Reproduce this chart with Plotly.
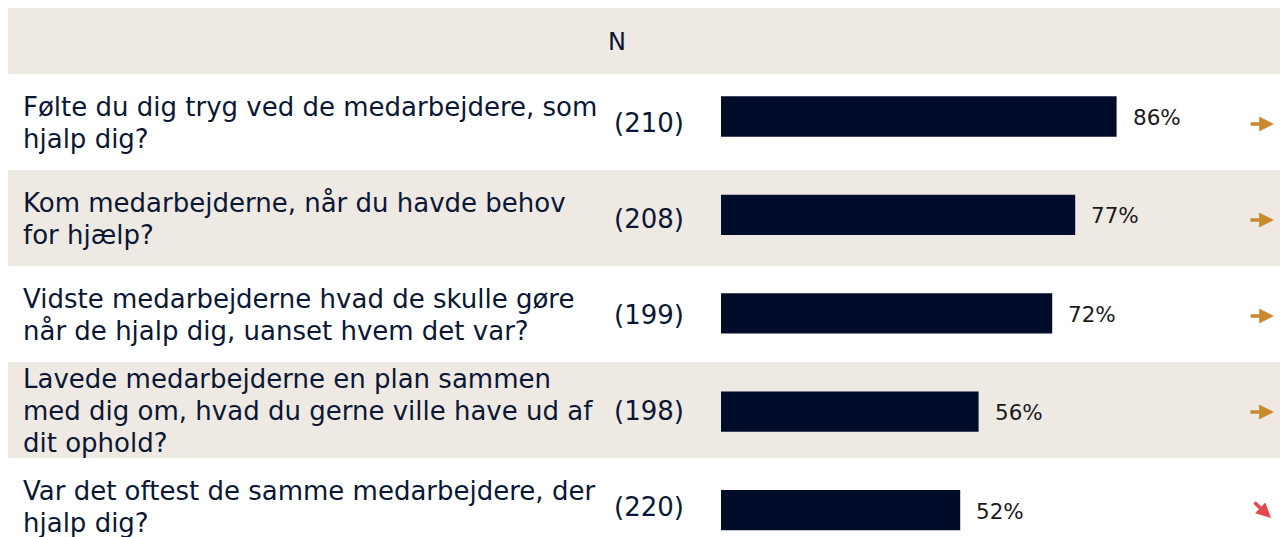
import plotly.graph_objects as go

questions = [
    ["Følte du dig tryg ved de medarbejdere, som", "hjalp dig?"],
    ["Kom medarbejderne, når du havde behov", "for hjælp?"],
    ["Vidste medarbejderne hvad de skulle gøre", "når de hjalp dig, uanset hvem det var?"],
    ["Lavede medarbejderne en plan sammen", "med dig om, hvad du gerne ville have ud af", "dit ophold?"],
    ["Var det oftest de samme medarbejdere, der", "hjalp dig?"],
]
n_values = [210, 208, 199, 198, 220]
pct_values = [86, 77, 72, 56, 52]
trends = ["flat", "flat", "flat", "flat", "down"]

W, H = 1288, 537
OFF = 8  # page body margin offset
BEIGE = "#EEE9E2"
NAVY = "#010C2B"
TEXT = "#0B1735"
ORANGE = "#C98A2E"
RED = "#E5484D"
FONT = "DejaVu Sans, Noto Sans, sans-serif"

def py(px):
    return 1 - (px - OFF) / H

def px_x(px):
    return (px - OFF) / W

idx = list(range(len(questions)))

fig = go.Figure()
fig.add_trace(go.Bar(
    x=pct_values, y=idx, orientation="h",
    marker=dict(color=NAVY, line=dict(width=0)),
    width=0.41, hoverinfo="skip",
))

shapes = []
shapes.append(dict(type="rect", xref="paper", yref="paper", x0=0, x1=1.0,
                   y0=py(74), y1=1.0, fillcolor=BEIGE, line_width=0, layer="below"))
row_top = 74
row_h = 96
for i in idx:
    if i % 2 == 1:
        shapes.append(dict(type="rect", xref="paper", yref="paper", x0=0, x1=1.0,
                           y0=py(row_top + (i + 1) * row_h), y1=py(row_top + i * row_h),
                           fillcolor=BEIGE, line_width=0, layer="below"))

annotations = []
annotations.append(dict(text="N", xref="paper", yref="paper", x=px_x(617), y=py(42),
                        xanchor="center", yanchor="middle", showarrow=False,
                        font=dict(size=24, color=TEXT, family=FONT)))
LINE = 32
for i in idx:
    cy = row_top + i * row_h + row_h / 2 + 1
    lines = questions[i]
    nl = len(lines)
    for j, ln in enumerate(lines):
        ly = cy + (j - (nl - 1) / 2) * LINE
        annotations.append(dict(text=ln, xref="paper", yref="paper",
                                x=px_x(21), y=py(ly), xanchor="left", yanchor="middle",
                                align="left", showarrow=False,
                                font=dict(size=26, color=TEXT, family=FONT)))
    annotations.append(dict(text=f"({n_values[i]})", xref="paper", yref="paper",
                            x=px_x(648.5), y=py(cy), xanchor="center", yanchor="middle",
                            showarrow=False, font=dict(size=26, color=TEXT, family=FONT)))
    annotations.append(dict(text=f"{pct_values[i]}%", xref="x", yref="y",
                            x=pct_values[i], y=i, xanchor="left", yanchor="middle",
                            xshift=14, yshift=-1, showarrow=False,
                            font=dict(size=21.5, color="#1a1a1a", family=FONT)))
    if trends[i] == "flat":
        annotations.append(dict(text="", xref="paper", yref="paper",
                                x=px_x(1274), y=py(cy + 1), ax=-25, ay=0,
                                showarrow=True, arrowhead=2, arrowsize=0.85, arrowwidth=3.5,
                                arrowcolor=ORANGE))
    else:
        annotations.append(dict(text="", xref="paper", yref="paper",
                                x=px_x(1271), y=py(cy + 11), ax=-18, ay=-17,
                                showarrow=True, arrowhead=2, arrowsize=0.85, arrowwidth=3.5,
                                arrowcolor=RED))

c0, k = 116.5 - OFF, 98.4
x0px = 721 - OFF
fig.update_layout(
    width=W, height=H,
    margin=dict(l=0, r=0, t=0, b=0),
    paper_bgcolor="white", plot_bgcolor="rgba(0,0,0,0)",
    font=dict(family=FONT, color=TEXT),
    showlegend=False,
    shapes=shapes, annotations=annotations,
    xaxis=dict(range=[-x0px / 4.6, (W - x0px) / 4.6], visible=False, fixedrange=True),
    yaxis=dict(range=[(H - c0) / k, -c0 / k], visible=False, fixedrange=True),
)

fig.write_html("out.html")
